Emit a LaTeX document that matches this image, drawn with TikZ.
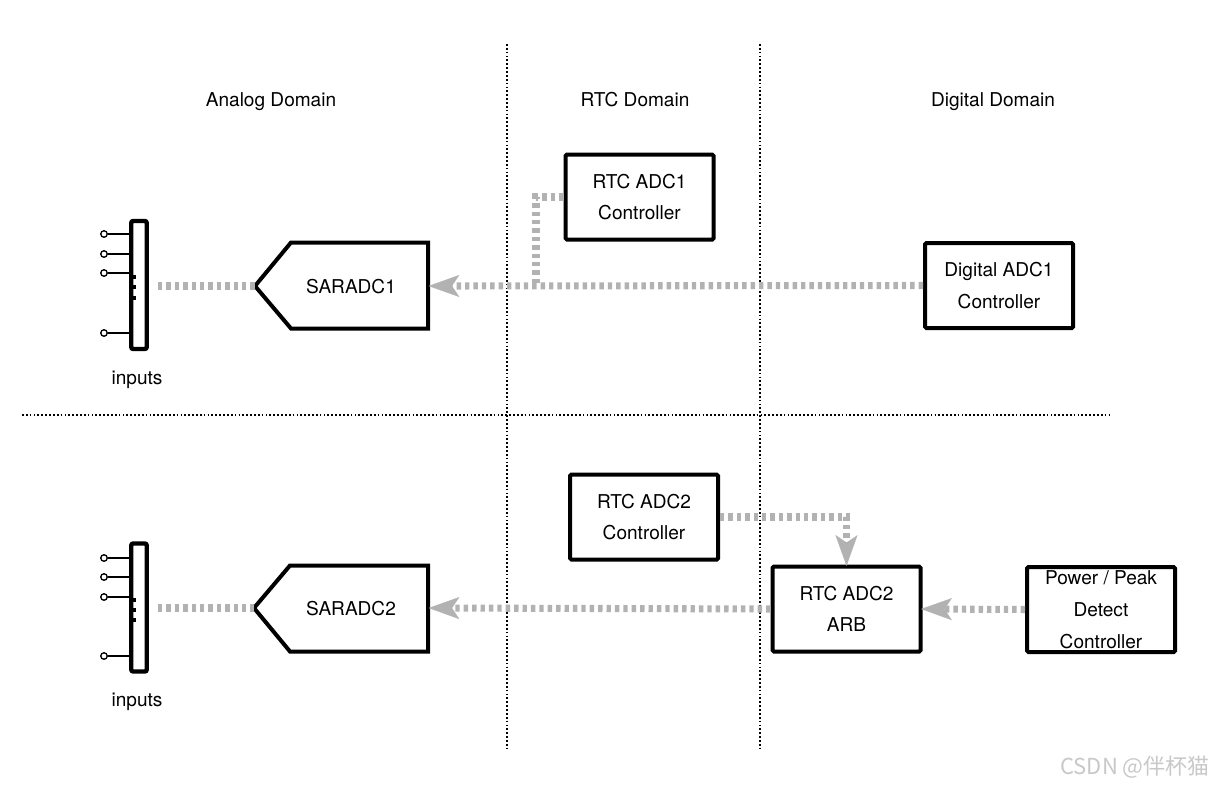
\documentclass[tikz,border=0pt]{standalone}
\usepackage{fontspec}
\setmainfont{TeX Gyre Heros}
\newfontfamily\cjk{Noto Sans CJK SC}
\usetikzlibrary{arrows.meta}
\definecolor{flowgray}{RGB}{178,178,178}
\definecolor{wmgray}{RGB}{200,200,200}
\begin{document}
\begin{tikzpicture}[x=0.75pt,y=-0.75pt,
  txt/.style={font=\fontsize{14.3}{23}\selectfont, inner sep=0pt},
  label/.style={txt, anchor=base},
  box/.style={draw, line width=3pt, rounded corners=1pt, align=center, inner sep=0pt,
    font=\fontsize{14.3}{23.8}\selectfont, minimum width={148*0.75pt}, minimum height={85*0.75pt}},
  sarshape/.style={draw, line width=3pt, line join=miter},
  bar/.style={draw, line width=3.3pt, rounded corners=1.5pt, minimum width={15.5*0.75pt}, minimum height={128*0.75pt}, inner sep=0pt},
  pin/.style={line width=1.2pt},
  pincirc/.style={draw, line width=1pt, fill=white, circle, inner sep=0pt, minimum size={6.5*0.75pt}},
  dotsq/.style={fill=black, inner sep=0pt, minimum size={3.6*0.75pt}},
  divider/.style={line width=0.8pt, dash pattern=on 1.3pt off 1.6pt},
  flowline/.style={draw=flowgray, line width=5.3pt, dash pattern=on 3.3pt off 3pt},
  flow/.style={flowline, -{Stealth[length=23pt, width=16.5pt, inset=5.5pt, line width=0.1pt]}, shorten >=-1pt},
]
\useasboundingbox (0,0) rectangle (1215,786);

% dividers
\coordinate (v1t) at (507,44); \coordinate (v1b) at (507,750);
\coordinate (v2t) at (760,44); \coordinate (v2b) at (760,750);
\coordinate (hl) at (22,415); \coordinate (hr) at (1112,415);
\draw[divider] (v1t) -- (v1b);
\draw[divider] (v2t) -- (v2b);
\draw[divider] (hl) -- (hr);

% titles
\node[label] (tA) at (271,106) {Analog Domain};
\node[label] (tR) at (635,106) {RTC Domain};
\node[label] (tD) at (993,106) {Digital Domain};

% boxes
\node[box] (rtc1) at (639.5,197) {RTC ADC1\\Controller};
\node[box] (dig1) at (999,285.5) {Digital ADC1\\Controller};
\node[box] (rtc2) at (644,517) {RTC ADC2\\Controller};
\node[box] (arb) at (846.5,609) {RTC ADC2\\ARB};
\node[box] (pwr) at (1101,609.5) {Power / Peak\\Detect\\Controller};

% SARADC shapes
\draw[sarshape] (255,286) -- (291,242.5) -- (428,242.5) -- (428,328.5) -- (291,328.5) -- cycle;
\node[txt] (sar1) at (351,287) {SARADC1};
\coordinate (sar1tip) at (255,286);
\coordinate (sar1r) at (430,286);
\draw[sarshape] (254,608) -- (290,565.5) -- (428,565.5) -- (428,651.5) -- (290,651.5) -- cycle;
\node[txt] (sar2) at (351,609) {SARADC2};
\coordinate (sar2tip) at (254,608);
\coordinate (sar2r) at (430,608);

% input bars
\node[bar] (bar1) at (139,285) {};
\node[bar] (bar2) at (139,607.5) {};
\foreach \y [count=\i] in {234,254,273,333}{
  \node[pincirc] (p1\i) at (104,\y) {};
  \coordinate (q1\i) at (130,\y);
  \draw[pin] (p1\i) -- (q1\i);
}
\foreach \y [count=\i] in {558,577,597,656}{
  \node[pincirc] (p2\i) at (104,\y) {};
  \coordinate (q2\i) at (130,\y);
  \draw[pin] (p2\i) -- (q2\i);
}
\foreach \y [count=\i] in {277,287,298}{ \node[dotsq] (d1\i) at (134,\y) {}; }
\foreach \y [count=\i] in {600,610,620}{ \node[dotsq] (d2\i) at (134,\y) {}; }
\node[label] (in1) at (137,384) {inputs};
\node[label] (in2) at (137,706) {inputs};

% flows
\coordinate (b1o) at (158,286);
\coordinate (b2o) at (158,608);
\draw[flowline] (b1o) -- (sar1tip);
\draw[flowline] (b2o) -- (sar2tip);
\coordinate (j1) at (536,286);
\draw[flowline] (rtc1.west) -| (j1);
\draw[flow] (dig1.west) -- (sar1r);
\draw[flow] (arb.west) -- (sar2r);
\draw[flow] (pwr.west) -- (arb.east);
\draw[flow] (rtc2.east) -| (arb.north);

% watermark
\node[font=\cjk\fontsize{16.5}{20}\selectfont, text=wmgray, anchor=east, inner sep=0pt] (wm) at (1210,767) {CSDN @伴杯猫};
\end{tikzpicture}
\end{document}
